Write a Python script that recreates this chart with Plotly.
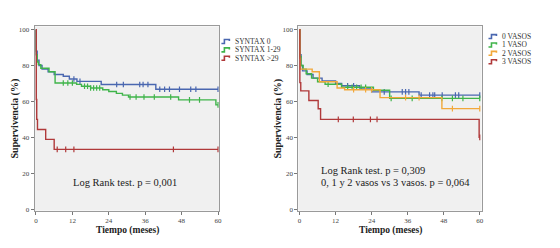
import plotly.graph_objects as go

W, H = 560, 248

# ---------------- DATA ----------------
# Left panel: SYNTAX groups (time in months, survival %)
syn0_t = [0, 0.1, 0.4, 1.0, 2.0, 4.0, 6.0, 9.0, 11.0, 13.5, 21.5, 39.5, 60]
syn0_s = [100, 88, 83, 80, 78, 76.5, 75, 74, 72.5, 71.2, 69.4, 66.8, 66.8]
syn0_c = [12.5, 14.5, 26.6, 28.8, 34.2, 35.3, 36.9, 40.8, 42.4, 44, 47.3, 51, 52.7, 60]

syn1_t = [0, 0.1, 0.4, 0.8, 1.6, 4.3, 6.3, 13.4, 15, 18, 22, 24, 26.5, 28.5, 30.5, 47, 59.3, 60]
syn1_s = [100, 86, 82, 80.5, 78.5, 76.5, 70.3, 69.5, 68.5, 67.5, 66.5, 65.5, 64.5, 63.5, 62.5, 60.9, 58.1, 58.1]
syn1_c = [9, 10.5, 12, 16, 17, 18, 19, 20, 21, 31, 33, 35.6, 39, 44.4, 50.6, 53.9, 60]

syn2_t = [0, 0.1, 0.25, 0.5, 3.2, 6.0, 60]
syn2_s = [100, 61.1, 50, 44.4, 38.9, 33.3, 33.3]
syn2_c = [7, 9.8, 12.5, 45.3, 60]

# Right panel: number of diseased vessels
v0_t = [0, 0.1, 0.5, 1.0, 2.5, 4.5, 7.5, 12, 14, 20, 24, 39.8, 60]
v0_s = [100, 86, 80, 77, 75, 73, 71.4, 70, 68.7, 67.5, 65.3, 63.5, 63.5]
v0_c = [16, 18, 28.2, 34.2, 35.3, 36.4, 40.5, 43.3, 44.4, 45, 47.5, 51.9, 53, 60]

v1_t = [0, 0.1, 0.5, 1.2, 2.2, 4.0, 6.0, 8.5, 14, 24.6, 30, 60]
v1_s = [100, 85, 80, 78, 75.4, 73, 71, 69.6, 67.9, 66.2, 61.7, 61.7]
v1_c = [9.5, 16, 17.5, 19, 20.5, 22, 30.5, 37.5, 47.4, 50.9, 54.4, 60]

v2_t = [0, 0.1, 0.3, 4.2, 6.6, 12.5, 15, 26.8, 47.4, 60]
v2_s = [100, 84, 78, 76.5, 71, 67.5, 66.5, 62.1, 56, 56]
v2_c = [18, 22, 24, 35.3, 39.8, 50.9, 60]

v3_t = [0, 0.1, 0.4, 3.1, 6.2, 7.0, 59.8, 60]
v3_s = [100, 70.5, 65.9, 60.5, 55.9, 50, 40, 40]
v3_c = [12.9, 17.9, 23.6, 25.8, 60]

left_names = ["SYNTAX 0", "SYNTAX 1-29", "SYNTAX >29"]
right_names = ["0 VASOS", "1 VASO", "2 VASOS", "3 VASOS"]
x_ticks = [0, 12, 24, 36, 48, 60]
y_ticks = [0, 20, 40, 60, 80, 100]

BLUE, GREEN, RED, ORANGE = "#4a67b0", "#3fb44a", "#b0393a", "#f2a83a"
FONT = "Liberation Serif"


def step_value(ts, ss, t):
    v = ss[0]
    for ti, si in zip(ts, ss):
        if ti <= t:
            v = si
    return v


fig = go.Figure()

left = [(syn0_t, syn0_s, syn0_c, BLUE), (syn1_t, syn1_s, syn1_c, GREEN), (syn2_t, syn2_s, syn2_c, RED)]
right = [(v0_t, v0_s, v0_c, BLUE), (v1_t, v1_s, v1_c, GREEN), (v2_t, v2_s, v2_c, ORANGE), (v3_t, v3_s, v3_c, RED)]

for panel, (xa, ya) in ((left, ("x", "y")), (right, ("x2", "y2"))):
    for ts, ss, cs, col in panel:
        fig.add_trace(go.Scatter(x=ts, y=ss, mode="lines", line=dict(color=col, width=1.4, shape="hv"),
                                 xaxis=xa, yaxis=ya, showlegend=False, hoverinfo="skip"))
        fig.add_trace(go.Scatter(x=cs, y=[step_value(ts, ss, c) for c in cs], mode="markers",
                                 marker=dict(symbol="line-ns-open", size=4, color=col,
                                             line=dict(color=col, width=1.2)),
                                 xaxis=xa, yaxis=ya, showlegend=False, hoverinfo="skip"))


def px(xp):
    return xp / W


def py(yp):
    return 1 - yp / H


axis_common = dict(showline=True, linecolor="#9a9a9a", linewidth=1, mirror=True, ticks="outside",
                   ticklen=3, tickcolor="#777", showgrid=False, zeroline=False,
                   tickfont=dict(family=FONT, size=7, color="#444"))

fig.update_layout(
    width=W, height=H, margin=dict(l=0, r=0, t=0, b=0),
    paper_bgcolor="white", plot_bgcolor="#f0f0f0",
    xaxis=dict(domain=[px(34), px(219.5)], range=[-0.4, 60.3], tickvals=x_ticks, anchor="y", **axis_common),
    yaxis=dict(domain=[py(213.2), py(26.7)], range=[-0.8, 101.8], tickvals=y_ticks, anchor="x", **axis_common),
    xaxis2=dict(domain=[px(299.5), px(484)], range=[-0.4, 60.6], tickvals=x_ticks, anchor="y2", **axis_common),
    yaxis2=dict(domain=[py(213.2), py(26.7)], range=[-0.8, 101.8], tickvals=y_ticks, anchor="x2", **axis_common),
    showlegend=False,
)

ann = []


def text(t, x, y, size, xanchor="center", angle=0, color="#222"):
    ann.append(dict(text=t, x=px(x), y=py(y), xref="paper", yref="paper", xanchor=xanchor,
                    yanchor="middle", showarrow=False, textangle=angle,
                    font=dict(family=FONT, size=size, color=color)))


# axis titles
for xc in (127, 392):
    text("<b>Tiempo (meses)</b>", xc, 233, 9.5)
for xc in (14, 279):
    text("<b>Supervivencia (%)</b>", xc, 120, 10, angle=-90)
# test annotations
text("Log Rank test. p = 0,001", 125, 185, 10.5)
text("Log Rank test. p = 0,309", 320, 173, 10.5, xanchor="left")
text("0, 1 y 2 vasos vs 3 vasos. p = 0,064", 320, 184.5, 10.5, xanchor="left")

shapes = []


def legend_entry(x0, yc, col, name):
    path = "M {a},{b} L {c},{b} L {c},{d} L {e},{d} L {e},{f}".format(
        a=px(x0), b=py(yc + 2), c=px(x0 + 3), d=py(yc - 2), e=px(x0 + 8), f=py(yc - 0.5))
    shapes.append(dict(type="path", path=path, xref="paper", yref="paper",
                       line=dict(color=col, width=1.6)))
    text(name, x0 + 12, yc, 7.5, xanchor="left", color="#333")


for i, (name, col) in enumerate(zip(left_names, [BLUE, GREEN, RED])):
    legend_entry(222, 42 + 8.5 * i, col, name)
for i, (name, col) in enumerate(zip(right_names, [BLUE, GREEN, ORANGE, RED])):
    legend_entry(491, 37 + 8.5 * i, col, name)

fig.update_layout(annotations=ann, shapes=shapes)
fig.write_html("out.html", config={"displayModeBar": False},
               post_script="document.body.style.margin='0';document.body.style.overflow='hidden';")
